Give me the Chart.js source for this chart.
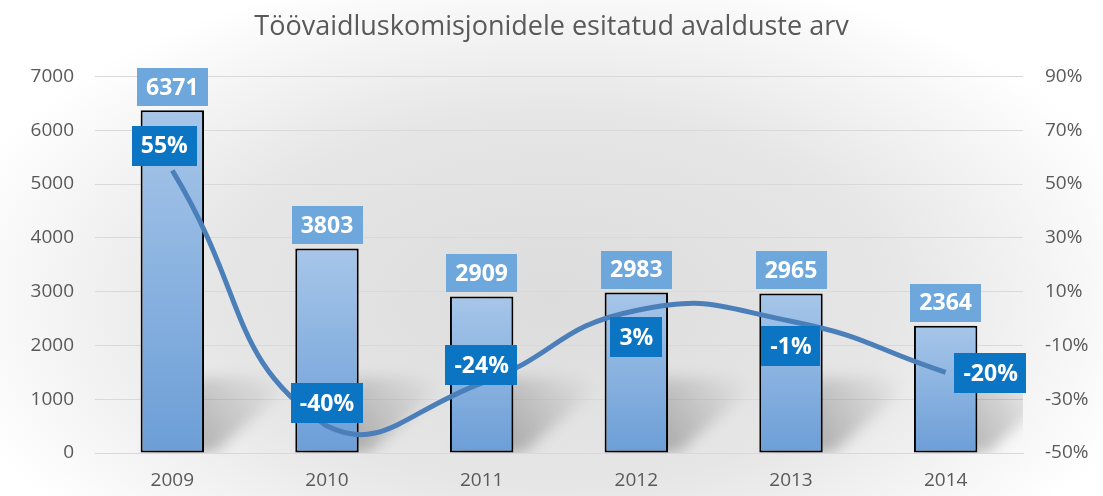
<!DOCTYPE html>
<html>
<head>
<meta charset="utf-8">
<script src="https://cdn.jsdelivr.net/npm/chart.js@4/dist/chart.umd.min.js"></script>
<style>
  html, body { margin: 0; padding: 0; background: #fff; }
  #wrap { width: 1103px; height: 496px; }
</style>
</head>
<body>
<div id="wrap"><canvas id="myChart"></canvas></div>
<script>
// data
const years = ['2009', '2010', '2011', '2012', '2013', '2014']
const applications = [6371, 3803, 2909, 2983, 2965, 2364]
const changePct = [55, -40, -24, 3, -1, -20]
// where each percentage box sits relative to its point (dx, dy in px)
const pctLabelOffsets = [[-8, -25], [0, -23], [0, -18], [0, 27], [0, 25], [45, 1]]

const fontFamily = '"Open Sans", "Noto Sans", sans-serif'
const grey = '#595959'

let ctx = document.getElementById('myChart').getContext('2d')

function barGradient(context) {
    let chart = context.chart
    let area = chart.chartArea
    if (!area || context.type !== 'data') return '#8cb3e0'
    let yScale = chart.scales.y
    let top = yScale.getPixelForValue(applications[context.dataIndex])
    let bottom = yScale.getPixelForValue(0)
    let g = chart.ctx.createLinearGradient(0, top, 0, bottom)
    g.addColorStop(0, '#a7c6e9')
    g.addColorStop(1, '#6c9ed7')
    return g
}

const backgroundPlugin = {
    id: 'bgPlugin',
    beforeDraw(chart) {
        let c = chart.ctx
        c.save()
        c.fillStyle = '#ffffff'
        c.fillRect(0, 0, chart.width, chart.height)
        c.translate(chart.width / 2, 300)
        c.scale(1, 0.55)
        let g = c.createRadialGradient(0, 0, 0, 0, 0, 620)
        g.addColorStop(0, '#dcdcdc')
        g.addColorStop(0.55, '#e6e6e6')
        g.addColorStop(1, '#ffffff')
        c.fillStyle = g
        c.fillRect(-chart.width, -600, chart.width * 2, 1200)
        c.restore()
    },
    beforeDatasetsDraw(chart) {
        // soft floor shadows behind the bars
        let c = chart.ctx
        let meta = chart.getDatasetMeta(1)
        c.save()
        c.beginPath()
        c.rect(chart.chartArea.left, chart.chartArea.top, chart.chartArea.width, chart.chartArea.height)
        c.clip()
        c.filter = 'blur(7px)'
        meta.data.forEach(function (bar) {
            let half = bar.width / 2
            let xl = bar.x - half, xr = bar.x + half, b = bar.base
            let g = c.createLinearGradient(xr, b, xr + 80, b - 70)
            g.addColorStop(0, 'rgba(0,0,0,0.25)')
            g.addColorStop(1, 'rgba(0,0,0,0)')
            c.fillStyle = g
            c.beginPath()
            c.moveTo(xl + 6, b)
            c.lineTo(xr + 10, b)
            c.lineTo(xr + 95, b - 75)
            c.lineTo(xl + 60, b - 75)
            c.closePath()
            c.fill()
        })
        c.restore()
    }
}

function drawBox(c, text, cx, cy, fill, h) {
    c.font = 'bold 23px ' + fontFamily
    let w = c.measureText(text).width + 18
    c.fillStyle = fill
    c.fillRect(Math.round(cx - w / 2), Math.round(cy - h / 2), Math.round(w), h)
    c.fillStyle = '#ffffff'
    c.textAlign = 'center'
    c.textBaseline = 'middle'
    c.fillText(text, cx, cy + 1)
}

const labelPlugin = {
    id: 'labelPlugin',
    afterDatasetsDraw(chart) {
        let c = chart.ctx
        c.save()
        let bars = chart.getDatasetMeta(1).data
        bars.forEach(function (bar, i) {
            drawBox(c, String(applications[i]), bar.x, bar.y - 23, '#6ea7db', 38)
        })
        let points = chart.getDatasetMeta(0).data
        points.forEach(function (pt, i) {
            let off = pctLabelOffsets[i]
            drawBox(c, changePct[i] + '%', pt.x + off[0], pt.y + off[1], '#0b75c4', 40)
        })
        c.restore()
    }
}

let happyChart = new Chart(ctx, {
    data: {
        labels: years,
        datasets: [{
            type: 'line',
            label: 'Muutus',
            data: changePct,
            yAxisID: 'y1',
            borderColor: '#4b7fb9',
            borderWidth: 5,
            pointRadius: 0,
            tension: 0.5,
            fill: false,
            order: 0
        }, {
            type: 'bar',
            label: 'Avaldused',
            data: applications,
            yAxisID: 'y',
            backgroundColor: barGradient,
            borderColor: '#000000',
            borderWidth: 2,
            borderSkipped: false,
            barPercentage: 0.41,
            categoryPercentage: 1,
            order: 1
        }]
    },
    options: {
        responsive: true,
        maintainAspectRatio: false,
        animation: false,
        layout: { padding: { top: 0, left: 0, right: 0, bottom: 0 } },
        plugins: {
            legend: { display: false },
            tooltip: { enabled: false },
            title: {
                display: true,
                text: 'Töövaidluskomisjonidele esitatud avalduste arv',
                color: grey,
                font: { family: fontFamily, size: 27, weight: 'normal' },
                padding: { top: 11, bottom: 33 }
            }
        },
        scales: {
            x: {
                grid: { display: false },
                border: { display: true, color: '#d9d9d9' },
                ticks: { color: grey, font: { family: fontFamily, size: 19 }, padding: 8 },
                afterFit(scale) { scale.height = 43 }
            },
            y: {
                position: 'left',
                min: 0,
                max: 7000,
                ticks: {
                    stepSize: 1000,
                    color: grey,
                    font: { family: fontFamily, size: 19 },
                    padding: 21,
                    callback: function (v) { return String(v) }
                },
                grid: { color: '#d9d9d9', drawTicks: false },
                border: { display: false },
                afterFit(scale) { scale.width = 95 }
            },
            y1: {
                position: 'right',
                min: -50,
                max: 90,
                ticks: {
                    stepSize: 20,
                    color: grey,
                    font: { family: fontFamily, size: 19 },
                    padding: 22,
                    callback: function (v) { return v + '%' }
                },
                grid: { display: false, drawTicks: false },
                border: { display: false },
                afterFit(scale) { scale.width = 80 }
            }
        }
    },
    plugins: [backgroundPlugin, labelPlugin]
})
</script>
</body>
</html>
